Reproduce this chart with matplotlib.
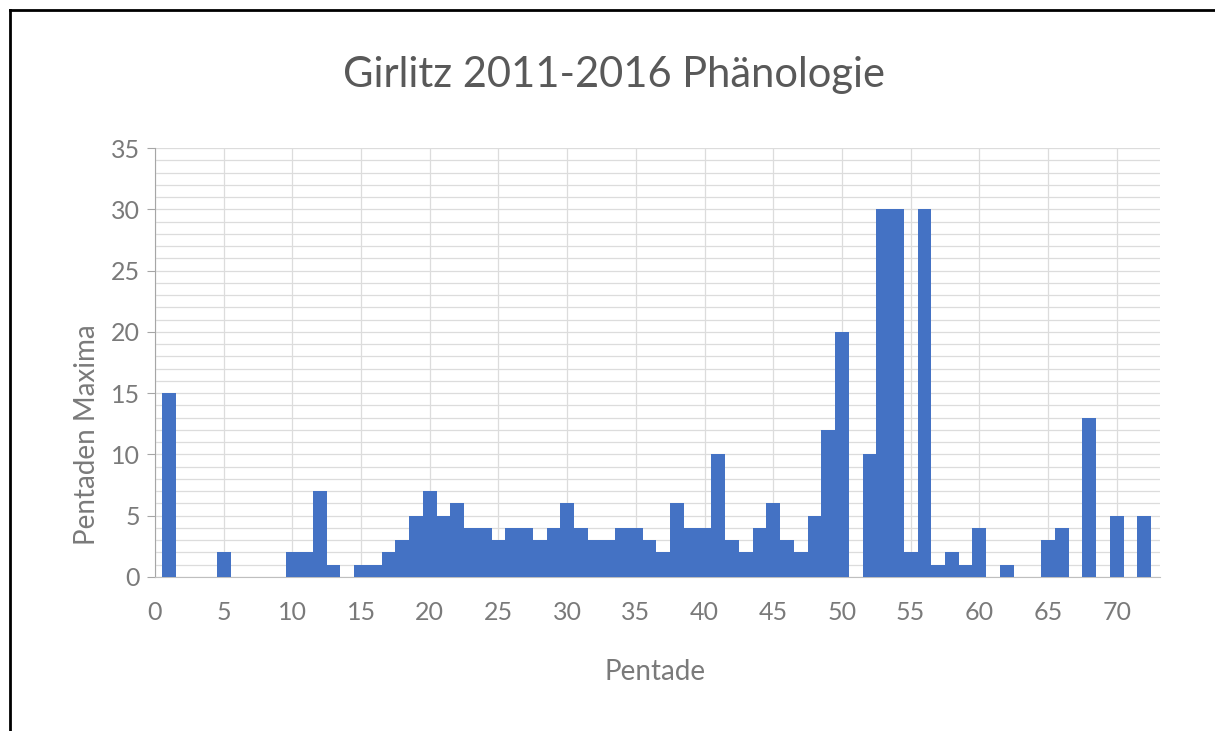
import numpy as np
import matplotlib.pyplot as plt
from matplotlib.lines import Line2D

# Pentade 0..72, maximum count per pentade
pentaden = np.arange(0, 73)
maxima = [
    0, 15, 0, 0, 0, 2, 0, 0, 0, 0,      # 0-9
    2, 2, 7, 1, 0, 1, 1, 2, 3, 5,       # 10-19
    7, 5, 6, 4, 4, 3, 4, 4, 3, 4,       # 20-29
    6, 4, 3, 3, 4, 4, 3, 2, 6, 4,       # 30-39
    4, 10, 3, 2, 4, 6, 3, 2, 5, 12,     # 40-49
    20, 0, 10, 30, 30, 2, 30, 1, 2, 1,  # 50-59
    4, 0, 1, 0, 0, 3, 4, 0, 13, 0,      # 60-69
    5, 0, 5,                            # 70-72
]
x_ticks = list(range(0, 71, 5))
y_ticks = list(range(0, 36, 5))

title = "Girlitz 2011-2016 Phänologie"
xlabel = "Pentade"
ylabel = "Pentaden Maxima"

plt.rcParams['font.family'] = ['Lato', 'DejaVu Sans']
text_col = '#595959'
tick_col = '#7a7a7a'
grid_col = '#dcdcdc'
bar_col = '#4472c4'

W, H = 1215, 731
fig = plt.figure(figsize=(W / 100, H / 100), dpi=100)

# frame lines on the left and top of the screenshot
fig.add_artist(Line2D([10 / W, 10 / W], [0, 1 - 10 / H], color='black', lw=2))
fig.add_artist(Line2D([10 / W, 1], [1 - 10 / H, 1 - 10 / H], color='black', lw=2))

ax = fig.add_axes([155 / W, 1 - 577 / H, (1160 - 155) / W, (577 - 148) / H])

ax.bar(pentaden, maxima, width=1.0, color=bar_col, zorder=3)

ax.set_xlim(0, 73.15)
ax.set_ylim(0, 35)
ax.set_xticks(x_ticks)
ax.set_yticks(y_ticks)
ax.set_yticks(range(0, 36), minor=True)

ax.grid(which='both', axis='y', color=grid_col, lw=0.9, zorder=0)
ax.grid(which='major', axis='x', color=grid_col, lw=0.9, zorder=0)

for s in ['top', 'right']:
    ax.spines[s].set_visible(False)
ax.spines['left'].set_color('#a6a6a6')
ax.spines['bottom'].set_color('#bfbfbf')

ax.tick_params(axis='y', which='major', length=6, color='#a6a6a6',
               labelsize=18, labelcolor=tick_col, pad=5)
ax.tick_params(axis='y', which='minor', length=0)
ax.tick_params(axis='x', length=0, labelsize=18, labelcolor=tick_col, pad=17)

fig.text(0.505, 1 - 75 / H, title, ha='center', va='center',
         fontsize=30, color=text_col)
fig.text(655 / W, 1 - 672 / H, xlabel, ha='center', va='center',
         fontsize=20, color=tick_col)
fig.text(87 / W, 1 - 435 / H, ylabel, ha='center', va='center',
         rotation=90, fontsize=20, color=tick_col)

fig.savefig('out.png', dpi=100)
